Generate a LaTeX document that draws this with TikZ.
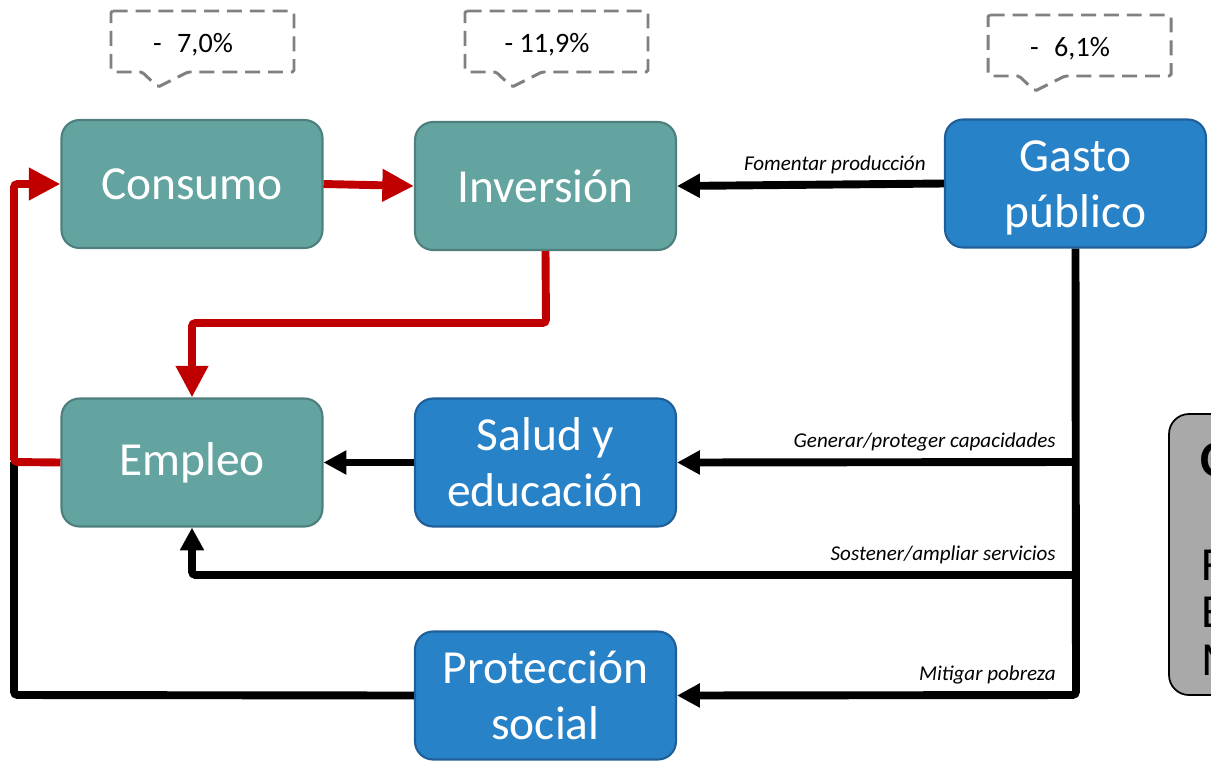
\documentclass[tikz,border=0pt]{standalone}
\usepackage{fontspec}
\setmainfont{Carlito}
\usepackage{tikz}
\usetikzlibrary{arrows.meta}
\definecolor{tealfill}{HTML}{63A4A0}
\definecolor{tealline}{HTML}{4E7F7C}
\definecolor{bluefill}{HTML}{2882C8}
\definecolor{blueline}{HTML}{1F5F99}
\definecolor{redline}{HTML}{C00000}
\definecolor{greybox}{HTML}{A9A9A9}
\definecolor{calloutline}{HTML}{808080}

\begin{document}
\begin{tikzpicture}[x=0.02cm, y=-0.02cm,
    box/.style={rounded corners=0.36cm, line width=1.2pt, minimum width=5.22cm, minimum height=2.56cm,
      text=white, align=center, font=\fontsize{27}{32}\selectfont},
    tealnode/.style={box, fill=tealfill, draw=tealline},
    bluenode/.style={box, fill=bluefill, draw=blueline},
    redarrow/.style={line width=4.5pt, draw=redline, rounded corners=2pt, -{Triangle[length=18pt,width=17.5pt]}},
    blackarrow/.style={line width=4.5pt, rounded corners=2pt, -{Triangle[length=13pt,width=13pt]}},
    lbl/.style={font=\fontsize{12}{14}\selectfont\itshape, anchor=base east, inner sep=0pt},
    callout/.style={draw=calloutline, line width=1.7pt, dash pattern=on 8.5pt off 4.5pt, rounded corners=1pt}]
  \useasboundingbox (0,0) rectangle (1211,765);

  \foreach \x/\y/\t/\n in {111/11/{-\hspace{0.55em}7,0\%}/c1, 465/11/{-\ 11,9\%}/c2, 988/15/{-\hspace{0.55em}6,1\%}/c3}
  {
    \draw[callout] (\x,\y) -- ++(183,0) -- ++(0,61) -- ++(-106,0) -- ++(-30,15) -- ++(-16,-15) -- (\x,{\y+61}) -- cycle;
    \node[font=\fontsize{16}{19}\selectfont] (\n) at ({\x+82},{\y+34}) {\t};
  }

  \node[tealnode] (consumo) at (192,184) {Consumo};
  \node[tealnode] (inversion) at (545.5,186) {Inversión};
  \node[bluenode] (gasto) at (1075.5,183.5) {\rule{0pt}{0.85em}Gasto\\público};
  \node[tealnode] (empleo) at (192,462.5) {Empleo};
  \node[bluenode] (salud) at (545.5,462.5) {Salud y\\educación};
  \node[bluenode] (proteccion) at (545.5,695.5) {Protección\\social};

  \draw[rounded corners=0.4cm, fill=greybox, line width=1pt] (1169,414) rectangle (1260,695);
  \node[font=\fontsize{29}{34}\selectfont\bfseries, anchor=base west] (t0) at (1194,476) {C};
  \foreach \l/\yy in {F/580, E/627, M/675}
    \node[font=\fontsize{27}{32}\selectfont, anchor=base west] (t\l) at (1195,\yy) {\l};

  \draw[blackarrow] (gasto.west) -- (inversion.east);
  \node[lbl] (fomentar) at (926,170) {Fomentar producción};
  \draw[blackarrow] (gasto.south) -- (1076,695) -- (proteccion.east);
  \draw[blackarrow] (1076,462) -- (salud.east);
  \draw[blackarrow] (1076,575) -| (empleo.south);
  \draw[blackarrow] (salud.west) -- (empleo.east);
  \draw[line width=4.5pt, rounded corners=2pt] (proteccion.west) -- (14,695) -- (14,462);
  \node[lbl] (generar) at (1056,447) {Generar/proteger capacidades};
  \node[lbl] (sostener) at (1056,560) {Sostener/ampliar servicios};
  \node[lbl] (mitigar) at (1056,680) {Mitigar pobreza};

  \draw[redarrow] (consumo.east) -- (inversion.west);
  \draw[redarrow] (inversion.south) -- (546,323) -| (empleo.north);
  \draw[redarrow] (empleo.west) -- (14,462) |- (consumo.west);
\end{tikzpicture}
\end{document}
